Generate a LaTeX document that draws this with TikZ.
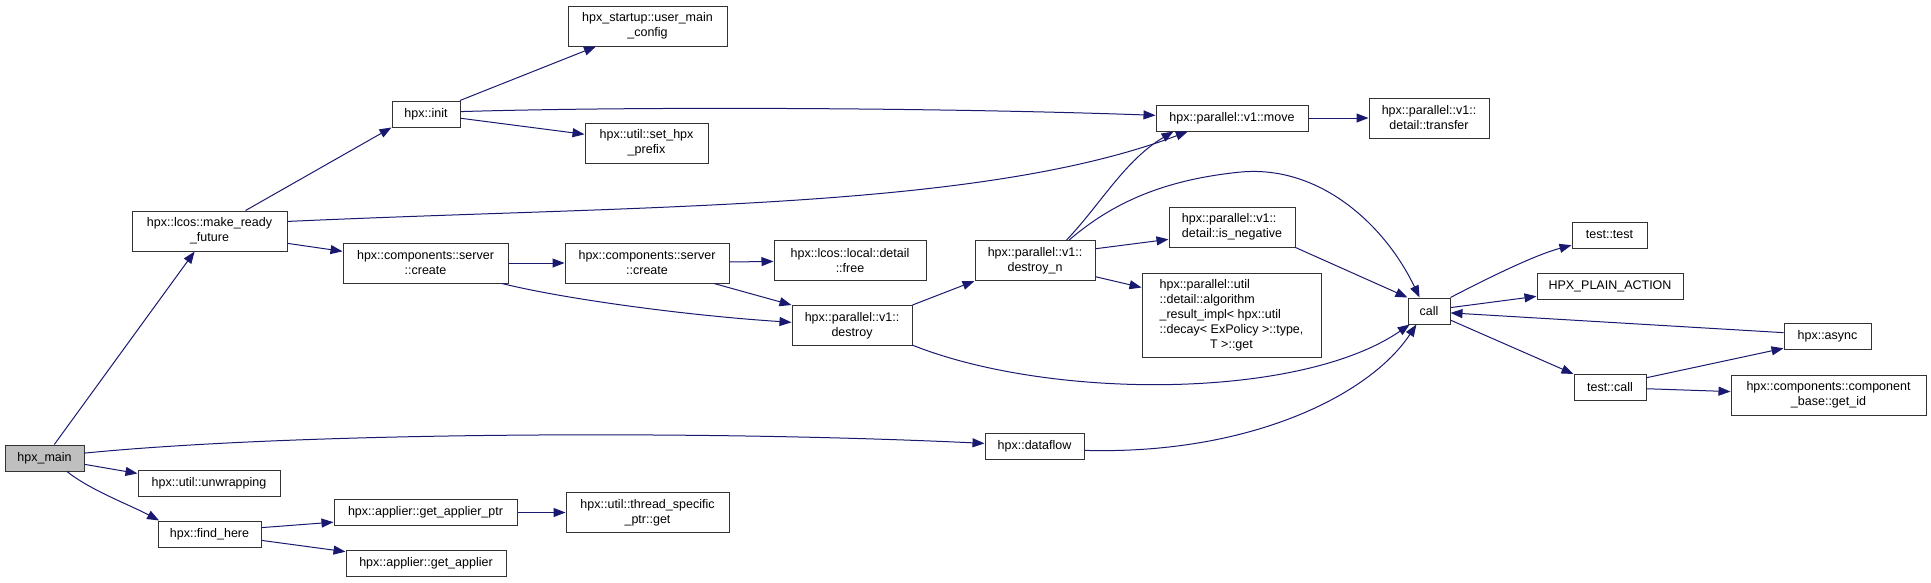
\documentclass[tikz,border=0pt]{standalone}
\usepackage{fontspec}
\setmainfont{Liberation Sans}
\usetikzlibrary{positioning, arrows.meta}
\definecolor{edgeblue}{HTML}{191970}

\begin{document}
\begin{tikzpicture}[x=1pt, y=-1pt,
        fn/.style={rectangle, draw=black!80, fill=white, line width=1pt, inner sep=0pt, minimum height=26pt, align=center, font=\fontsize{12.5}{15}\selectfont},
        fn2/.style={fn, minimum height=40pt},
        root/.style={fn, fill=black!25},
        callto/.style={-{Triangle[length=12pt, width=9pt]}, edgeblue, line width=1pt}
    ]
        \useasboundingbox (0,0) rectangle (1931,582);

        % Caller
        \node[root, minimum width=79pt] (main) at (44.5,458) {hpx\_main};

        % First level
        \node[fn2, minimum width=155pt] (ready) at (209.5,231) {hpx::lcos::make\_ready\\\_future};
        \node[fn, minimum width=142pt] (unwrap) at (209,483.5) {hpx::util::unwrapping};
        \node[fn, minimum width=103pt] (here) at (209.5,534) {hpx::find\_here};
        \node[fn, minimum width=99pt] (flow) at (1034.5,446) {hpx::dataflow};

        % make_ready_future
        \node[fn, minimum width=68pt] (init) at (426,114) {hpx::init};
        \node[fn2, minimum width=159pt] (usercfg) at (647.5,26) {hpx\_startup::user\_main\\\_config};
        \node[fn2, minimum width=123pt] (prefix) at (646.5,143) {hpx::util::set\_hpx\\\_prefix};
        \node[fn, minimum width=152pt] (move) at (1232,118) {hpx::parallel::v1::move};
        \node[fn2, minimum width=120pt] (transfer) at (1429,118) {hpx::parallel::v1::\\detail::transfer};
        \node[fn2, minimum width=165pt] (create) at (425.5,263) {hpx::components::server\\::create};
        \node[fn2, minimum width=164pt] (create2) at (647,263) {hpx::components::server\\::create};
        \node[fn2, minimum width=152pt] (free) at (850,260.5) {hpx::lcos::local::detail\\::free};
        \node[fn2, minimum width=120pt] (destroy) at (852,325.5) {hpx::parallel::v1::\\destroy};
        \node[fn2, minimum width=120pt] (destroyn) at (1035,260.5) {hpx::parallel::v1::\\destroy\_n};
        \node[fn2, minimum width=126pt, align=left] (neg) at (1232,227) {hpx::parallel::v1::\\detail::is\_negative};
        \node[fn, minimum width=179pt, minimum height=84pt] (algo) at (1231.5,315) {\begin{tabular}{@{}l@{}}hpx::parallel::util\\::detail::algorithm\\\_result\_impl< hpx::util\\::decay< ExPolicy >::type,\\\multicolumn{1}{@{}c@{}}{T >::get}\end{tabular}};

        % call
        \node[fn, minimum width=42pt] (call) at (1429,311) {call};
        \node[fn, minimum width=75pt] (ttest) at (1609.5,235) {test::test};
        \node[fn, minimum width=146pt] (plain) at (1610,286) {HPX\_PLAIN\_ACTION};
        \node[fn, minimum width=87pt] (async) at (1827.5,336.5) {hpx::async};
        \node[fn, minimum width=72pt] (tcall) at (1610,387.5) {test::call};
        \node[fn2, minimum width=195pt] (getid) at (1828.5,395) {hpx::components::component\\\_base::get\_id};

        % find_here
        \node[fn, minimum width=183pt] (applptr) at (425.5,512.5) {hpx::applier::get\_applier\_ptr};
        \node[fn, minimum width=160pt] (appl) at (426,563) {hpx::applier::get\_applier};
        \node[fn2, minimum width=163pt] (tsptr) at (647.5,512.5) {hpx::util::thread\_specific\\\_ptr::get};

        % hpx_main
        \draw[callto] (main) -- (ready);
        \draw[callto] (main.7) .. controls (300,432) and (700,430) .. (flow.177);
        \draw[callto] (main.-9) -- (unwrap.172);
        \draw[callto] (main.-31) .. controls (90,490) and (130,505) .. (here.165);

        % make_ready_future
        \draw[callto] (ready) -- (init.south west);
        \draw[callto] (ready.7) .. controls (650,205) and (980,210) .. (move.-163);
        \draw[callto] (ready.-9) -- (create.172);

        % init
        \draw[callto] (init) -- (usercfg);
        \draw[callto] (init.4) .. controls (650,106) and (950,108) .. (move.178);
        \draw[callto] (init.-7) -- (prefix.172);
        \draw[callto] (move) -- (transfer);

        % create
        \draw[callto] (create) -- (create2);
        \draw[callto] (create.-15) .. controls (560,298) and (680,315) .. (destroy.177);
        \draw[callto] (create2) -- (free);
        \draw[callto] (create2.-17) -- (destroy.north west);

        % destroy
        \draw[callto] (destroy.north east) -- (destroyn.south west);
        \draw[callto] (destroy.-18) .. controls (1050,400) and (1300,400) .. (call.-145);
        \draw[callto] (destroyn.33) .. controls (1100,205) and (1125,160) .. (move.-167);
        \draw[callto] (destroyn.31) .. controls (1110,205) and (1160,180) .. (1241,172) .. controls (1320,165) and (1385,225) .. (call.125);
        \draw[callto] (destroyn.11) -- (neg.-169);
        \draw[callto] (destroyn.-15) -- (algo.163);
        \draw[callto] (neg.south east) -- (call.north west);

        % dataflow
        \draw[callto] (flow.-5) .. controls (1250,455) and (1370,395) .. (call.-133);

        % call
        \draw[callto] (call.north east) .. controls (1490,277) and (1535,255) .. (ttest.-165);
        \draw[callto] (call.9) -- (plain.-172);
        \draw[callto] (call.-23) -- (tcall.north west);
        \draw[callto] (async.175) -- (call.-5);
        \draw[callto] (tcall.15) -- (async.-165);
        \draw[callto] (tcall) -- (getid.178);

        % find_here
        \draw[callto] (here.7) -- (applptr.-174);
        \draw[callto] (here.-7) -- (appl.172);
        \draw[callto] (applptr) -- (tsptr);
    \end{tikzpicture}
\end{document}
